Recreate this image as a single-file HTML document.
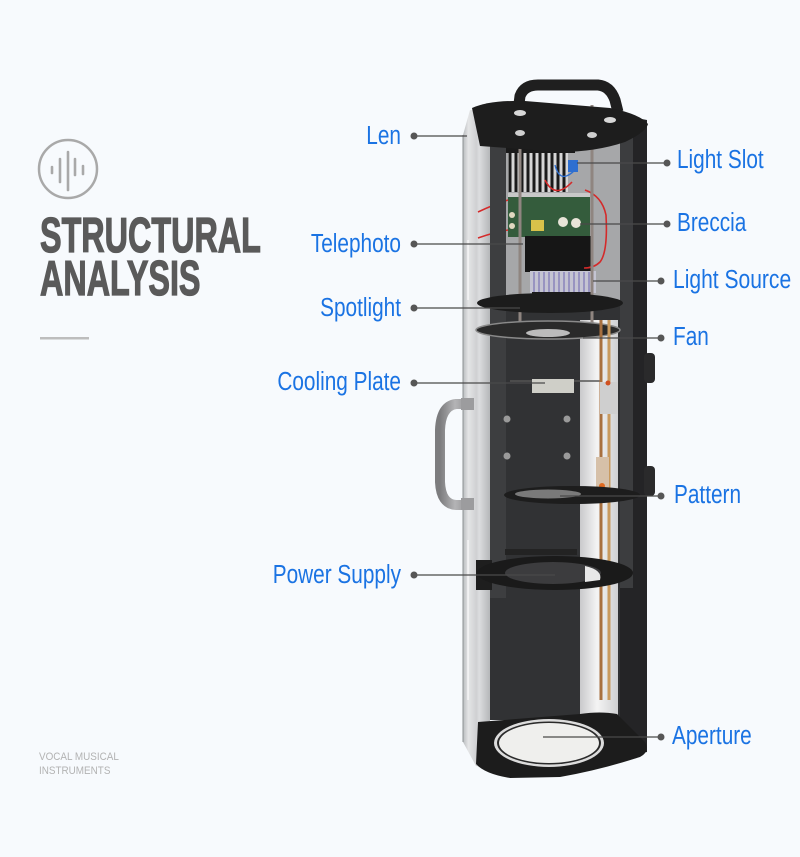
<!DOCTYPE html>
<html><head><meta charset="utf-8"><style>
html,body{margin:0;padding:0;background:#f7fafd;}
svg{display:block;}
</style></head><body>
<svg width="800" height="857" viewBox="0 0 800 857" xmlns="http://www.w3.org/2000/svg">
<defs>
<linearGradient id="silv" x1="0" x2="1" y1="0" y2="0">
<stop offset="0" stop-color="#b9bcbf"/><stop offset="0.2" stop-color="#e4e5e6"/><stop offset="0.5" stop-color="#cfd0d2"/><stop offset="0.6" stop-color="#dcdddf"/><stop offset="1" stop-color="#b5b7b9"/>
</linearGradient>
<linearGradient id="cyl" x1="0" x2="1" y1="0" y2="0">
<stop offset="0" stop-color="#c9c9cb"/><stop offset="0.45" stop-color="#f4f4f4"/><stop offset="1" stop-color="#cfd0d2"/>
</linearGradient>
<linearGradient id="hnd" x1="0" x2="1">
<stop offset="0" stop-color="#7c7c7e"/><stop offset="0.5" stop-color="#b4b4b6"/><stop offset="1" stop-color="#8e8e90"/>
</linearGradient>
</defs>
<rect width="800" height="857" fill="#f7fafd"/>

<!-- logo -->
<circle cx="68" cy="169" r="29" fill="none" stroke="#a9a9a9" stroke-width="2.5"/>
<g stroke="#a9a9a9" stroke-width="2.6" stroke-linecap="round">
<line x1="52" y1="167" x2="52" y2="173"/>
<line x1="60" y1="159" x2="60" y2="182"/>
<line x1="68" y1="152" x2="68" y2="190"/>
<line x1="75" y1="159" x2="75" y2="175"/>
<line x1="83" y1="166" x2="83" y2="174"/>
</g>
<g font-family="Liberation Sans, Arial, sans-serif" font-weight="bold" font-size="49" fill="#5a5a5a" stroke="#5a5a5a" stroke-width="1.3">
<text transform="translate(40,252) scale(0.66,1)">STRUCTURAL</text>
<text transform="translate(40,295) scale(0.66,1)">ANALYSIS</text>
</g>
<rect x="40" y="337" width="49" height="2.5" fill="#bdbdbd"/>
<g font-family="Liberation Sans, Arial, sans-serif" font-size="11" fill="#b3b3b3">
<text transform="translate(39,760) scale(0.9,1)">VOCAL MUSICAL</text>
<text transform="translate(39,774) scale(0.9,1)">INSTRUMENTS</text>
</g>

<!-- ===== device ===== -->
<rect x="490" y="140" width="130" height="580" fill="#313234"/>
<rect x="490" y="140" width="130" height="165" fill="#a6a7a9"/>
<path d="M463,135 L470,110 L490,112 L490,768 L476,766 L463,742 Z" fill="url(#silv)"/>
<line x1="463" y1="135" x2="463" y2="742" stroke="#8e9194" stroke-width="1"/>
<g stroke="#ffffff" stroke-width="1.5" opacity="0.7">
<line x1="468" y1="240" x2="468" y2="300"/><line x1="468" y1="540" x2="468" y2="700"/>
</g>
<rect x="580" y="320" width="38" height="400" fill="url(#cyl)"/>
<path d="M620,115 L647,120 L647,752 L620,757 Z" fill="#242426"/>
<rect x="620" y="120" width="13" height="468" fill="#3c3d3f"/>
<rect x="644" y="353" width="11" height="30" rx="4" fill="#2a2a2b"/>
<rect x="644" y="466" width="11" height="30" rx="4" fill="#2a2a2b"/>

<!-- electronics -->
<rect x="508" y="152" width="60" height="40" fill="#d6d6d6"/>
<g stroke="#1a1a1a" stroke-width="3">
<line x1="510" y1="152" x2="510" y2="192"/><line x1="516" y1="152" x2="516" y2="192"/><line x1="522" y1="152" x2="522" y2="192"/><line x1="528" y1="152" x2="528" y2="192"/><line x1="534" y1="152" x2="534" y2="192"/><line x1="540" y1="152" x2="540" y2="192"/><line x1="546" y1="152" x2="546" y2="192"/><line x1="552" y1="152" x2="552" y2="192"/><line x1="558" y1="152" x2="558" y2="192"/><line x1="564" y1="152" x2="564" y2="192"/>
</g>
<rect x="505" y="145" width="70" height="8" fill="#1a1a1a"/>
<rect x="568" y="160" width="10" height="12" fill="#2e6fd0"/>
<rect x="508" y="195" width="82" height="42" fill="#345c3c"/>
<rect x="508" y="193" width="82" height="4" fill="#c8c8c8"/>
<rect x="531" y="220" width="13" height="11" fill="#d9c24a"/>
<circle cx="563" cy="222" r="5" fill="#e8e4d8"/><circle cx="576" cy="223" r="5" fill="#e8e4d8"/>
<circle cx="512" cy="215" r="3" fill="#e0d8c0"/><circle cx="512" cy="226" r="3" fill="#e0d8c0"/>
<rect x="525" y="236" width="68" height="36" fill="#161616"/>
<rect x="530" y="271" width="66" height="22" fill="#c4c4d2"/>
<g stroke="#8d88bd" stroke-width="1.6">
<line x1="534" y1="272" x2="534" y2="292"/><line x1="539" y1="272" x2="539" y2="292"/><line x1="544" y1="272" x2="544" y2="292"/><line x1="549" y1="272" x2="549" y2="292"/><line x1="554" y1="272" x2="554" y2="292"/><line x1="559" y1="272" x2="559" y2="292"/><line x1="564" y1="272" x2="564" y2="292"/><line x1="569" y1="272" x2="569" y2="292"/><line x1="574" y1="272" x2="574" y2="292"/><line x1="579" y1="272" x2="579" y2="292"/><line x1="584" y1="272" x2="584" y2="292"/><line x1="589" y1="272" x2="589" y2="292"/>
</g>
<g fill="none" stroke="#d42a2a" stroke-width="1.6">
<path d="M585,190 Q602,196 606,215 Q608,252 600,262 Q594,268 584,268"/>
<path d="M478,212 Q495,204 508,200"/><path d="M478,238 Q495,232 508,230"/>
<path d="M545,180 Q555,200 572,182"/>
</g>
<path d="M555,165 Q560,185 575,170" fill="none" stroke="#2e6fd0" stroke-width="1.4"/>
<rect x="532" y="292" width="60" height="10" fill="#1c1c1c"/>

<rect x="490" y="110" width="16" height="488" fill="#3d3e40"/>
<rect x="476" y="560" width="16" height="30" fill="#1e1e1e"/>

<line x1="520" y1="105" x2="520" y2="330" stroke="#8f8580" stroke-width="3"/>
<line x1="592" y1="105" x2="592" y2="330" stroke="#8f8580" stroke-width="3"/>

<path d="M518,112 L520,96 Q524,85 538,85 L598,85 Q610,86 615,100 L618,112" fill="none" stroke="#1f1f1f" stroke-width="11" stroke-linejoin="round"/>
<path d="M472,108 Q490,100 525,101 L610,108 Q640,114 648,124 Q646,132 625,142 Q595,152 560,152 L480,146 Z" fill="#1d1d1d"/>
<ellipse cx="520" cy="113" rx="6" ry="3" fill="#d8d8d8"/><ellipse cx="610" cy="120" rx="6" ry="3" fill="#d8d8d8"/>
<ellipse cx="520" cy="133" rx="5" ry="3" fill="#cfcfcf"/><ellipse cx="592" cy="135" rx="5" ry="3" fill="#cfcfcf"/>

<ellipse cx="550" cy="303" rx="73" ry="10" fill="#1c1c1c"/>
<ellipse cx="548" cy="330" rx="72" ry="9" fill="#2a2a2a" stroke="#8a8a8a" stroke-width="1.5"/>
<ellipse cx="548" cy="333" rx="22" ry="4" fill="#bcbcbc"/>

<line x1="510" y1="381" x2="602" y2="381" stroke="#555" stroke-width="1.5"/>
<rect x="532" y="379" width="42" height="14" fill="#cfcfc8"/>
<circle cx="507" cy="419" r="3.5" fill="#9a9a9a"/><circle cx="567" cy="419" r="3.5" fill="#9a9a9a"/>
<circle cx="507" cy="456" r="3.5" fill="#9a9a9a"/><circle cx="567" cy="456" r="3.5" fill="#9a9a9a"/>

<line x1="601" y1="320" x2="601" y2="700" stroke="#a8703f" stroke-width="3"/>
<line x1="609" y1="320" x2="609" y2="700" stroke="#c99a5e" stroke-width="3"/>
<rect x="600" y="382" width="18" height="32" fill="#cfcfcf"/>
<rect x="596" y="457" width="13" height="36" fill="#d6c0a8"/>
<circle cx="602" cy="486" r="3" fill="#e06a20"/><circle cx="608" cy="383" r="2.5" fill="#d05020"/>

<ellipse cx="572" cy="495" rx="68" ry="9" fill="#1d1d1d"/>
<ellipse cx="548" cy="494" rx="33" ry="4.5" fill="#7a7a7a"/>

<rect x="505" y="549" width="72" height="6" fill="#232323"/>
<ellipse cx="555" cy="573" rx="78" ry="17" fill="#1a1a1a"/>
<ellipse cx="553" cy="573" rx="48" ry="11" fill="#3c3c3e"/>
<path d="M585,566 Q603,570 600,580 L585,582 Z" fill="#e8e8e8"/>

<path d="M478,722 L580,714 Q600,711 617,714 L645,742 Q650,752 640,757 Q600,770 560,777 L510,778 Q485,774 476,764 Z" fill="#1c1c1c"/>
<ellipse cx="549" cy="743" rx="55" ry="24" fill="#dcdcdc"/>
<ellipse cx="549" cy="743" rx="52" ry="21.5" fill="#2a2a2a"/>
<ellipse cx="549" cy="743" rx="50" ry="20" fill="#efefed"/>

<path d="M470,404 L456,404 Q441,406 440,430 L440,482 Q441,504 456,505 L470,505" fill="none" stroke="url(#hnd)" stroke-width="10" stroke-linejoin="round"/>
<rect x="461" y="398" width="13" height="12" fill="#9c9c9e"/>
<rect x="461" y="498" width="13" height="12" fill="#9c9c9e"/>

<!-- connectors -->
<g stroke="#4a4a4a" stroke-width="1.3">
<line x1="414" y1="136" x2="467" y2="136"/>
<line x1="414" y1="244" x2="523" y2="244"/>
<line x1="414" y1="308" x2="520" y2="308"/>
<line x1="414" y1="383" x2="545" y2="383"/>
<line x1="414" y1="575" x2="555" y2="575"/>
<line x1="577" y1="163" x2="667" y2="163"/>
<line x1="580" y1="224" x2="667" y2="224"/>
<line x1="593" y1="281" x2="661" y2="281"/>
<line x1="583" y1="338" x2="661" y2="338"/>
<line x1="560" y1="496" x2="661" y2="496"/>
<line x1="543" y1="737" x2="661" y2="737"/>
</g>
<g fill="#565656">
<circle cx="414" cy="136" r="3.5"/><circle cx="414" cy="244" r="3.5"/><circle cx="414" cy="308" r="3.5"/><circle cx="414" cy="383" r="3.5"/><circle cx="414" cy="575" r="3.5"/>
<circle cx="667" cy="163" r="3.5"/><circle cx="667" cy="224" r="3.5"/><circle cx="661" cy="281" r="3.5"/><circle cx="661" cy="338" r="3.5"/><circle cx="661" cy="496" r="3.5"/><circle cx="661" cy="737" r="3.5"/>
</g>

<g font-family="Liberation Sans, Arial, sans-serif" font-size="26" fill="#1a73e3">
<text text-anchor="end" transform="translate(401,144) scale(0.8,1)">Len</text>
<text text-anchor="end" transform="translate(401,252) scale(0.8,1)">Telephoto</text>
<text text-anchor="end" transform="translate(401,316) scale(0.8,1)">Spotlight</text>
<text text-anchor="end" transform="translate(401,390) scale(0.8,1)">Cooling Plate</text>
<text text-anchor="end" transform="translate(401,583) scale(0.8,1)">Power Supply</text>
<text transform="translate(677,168) scale(0.8,1)">Light Slot</text>
<text transform="translate(677,231) scale(0.8,1)">Breccia</text>
<text transform="translate(673,288) scale(0.81,1)">Light Source</text>
<text transform="translate(673,345) scale(0.8,1)">Fan</text>
<text transform="translate(674,503) scale(0.8,1)">Pattern</text>
<text transform="translate(672,744) scale(0.8,1)">Aperture</text>
</g>
</svg>
</body></html>
